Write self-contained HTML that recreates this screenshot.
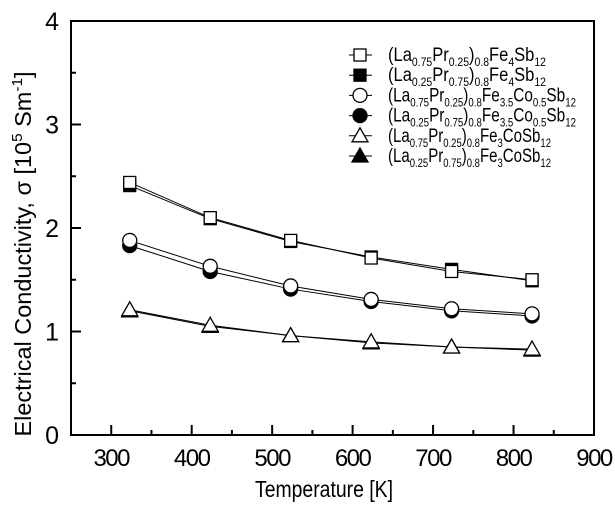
<!DOCTYPE html>
<html><head><meta charset="utf-8"><style>
body{margin:0;background:#fff}
svg{font-family:"Liberation Sans",sans-serif}
</style></head><body>
<svg id="c" width="615" height="504" viewBox="0 0 615 504">
<rect width="615" height="504" fill="#fff"/>
<g id="axes"></g><g id="series"></g><g id="legend"></g>
<text x="324" y="497" text-anchor="middle" font-size="23" textLength="138" lengthAdjust="spacingAndGlyphs">Temperature [K]</text>
<text transform="translate(31,254) rotate(-90)" text-anchor="middle" font-size="23" textLength="365" lengthAdjust="spacingAndGlyphs">Electrical Conductivity, σ [10<tspan font-size="15" dy="-9">5</tspan><tspan dy="9"> Sm</tspan><tspan font-size="15" dy="-9">-1</tspan><tspan dy="9">]</tspan></text>
</svg>
<script>
const temps=[323,423,523,623,723,823];
const sqOpen=[2.44,2.10,1.88,1.71,1.58,1.50];
const sqFill=[2.41,2.09,1.87,1.72,1.60,1.49];
const ciOpen=[1.88,1.63,1.44,1.31,1.22,1.17];
const ciFill=[1.83,1.58,1.41,1.29,1.20,1.15];
const trOpen=[1.21,1.06,0.96,0.90,0.85,0.83];
const trFill=[1.20,1.05,0.96,0.89,0.85,0.82];
const xTicks=[300,400,500,600,700,800,900];
const yTicks=[0,1,2,3,4];
const legendLabels=[
 ['0.75','0.25','Fe<tspan font-size="12" dy="5">4</tspan><tspan dy="-5">Sb</tspan><tspan font-size="12" dy="5">12</tspan>'],
 ['0.25','0.75','Fe<tspan font-size="12" dy="5">4</tspan><tspan dy="-5">Sb</tspan><tspan font-size="12" dy="5">12</tspan>'],
 ['0.75','0.25','Fe<tspan font-size="12" dy="5">3.5</tspan><tspan dy="-5">Co</tspan><tspan font-size="12" dy="5">0.5</tspan><tspan dy="-5">Sb</tspan><tspan font-size="12" dy="5">12</tspan>'],
 ['0.25','0.75','Fe<tspan font-size="12" dy="5">3.5</tspan><tspan dy="-5">Co</tspan><tspan font-size="12" dy="5">0.5</tspan><tspan dy="-5">Sb</tspan><tspan font-size="12" dy="5">12</tspan>'],
 ['0.75','0.25','Fe<tspan font-size="12" dy="5">3</tspan><tspan dy="-5">CoSb</tspan><tspan font-size="12" dy="5">12</tspan>'],
 ['0.25','0.75','Fe<tspan font-size="12" dy="5">3</tspan><tspan dy="-5">CoSb</tspan><tspan font-size="12" dy="5">12</tspan>']
];
const legendWidths=[158,158,188,188,163,163];
const NS='http://www.w3.org/2000/svg';
const L=71,R=594,T=21,B=435;
const X=v=>L+(v-250)/650*(R-L);
const Y=v=>B-v/4*(B-T);
function mk(tag,a,p){const e=document.createElementNS(NS,tag);for(const k in a)e.setAttribute(k,a[k]);p.appendChild(e);return e;}
const ax=document.getElementById('axes');
const frame=mk('rect',{x:L,y:T,width:R-L,height:B-T,fill:'none',stroke:'#000','stroke-width':2},ax);


xTicks.forEach(t=>{
 const l=mk('line',{x1:X(t),x2:X(t),y1:B,y2:B-10,stroke:'#000','stroke-width':2},ax);
 
 
 const m=mk('line',{x1:X(t-50),x2:X(t-50),y1:B,y2:B-5,stroke:'#000','stroke-width':2},ax);
 
 
 const tx=mk('text',{x:X(t),y:B+31,'text-anchor':'middle','font-size':24,'letter-spacing':-1.5},ax);tx.textContent=t;
 
 
});
yTicks.forEach(t=>{
 const l=mk('line',{x1:L,x2:L+10,y1:Y(t),y2:Y(t),stroke:'#000','stroke-width':2},ax);
 
 
 if(t<4){const m=mk('line',{x1:L,x2:L+5,y1:Y(t+0.5),y2:Y(t+0.5),stroke:'#000','stroke-width':2},ax);
 
 }
 const tx=mk('text',{x:L-12,y:Y(t)+9,'text-anchor':'end','font-size':25},ax);tx.textContent=t;
 
 
});
function marker(shape,fill,cx,cy,p){
 const f=fill?'#000':'#fff';
 if(shape==='sq')return mk('rect',{x:cx-6,y:cy-6,width:12,height:12,fill:f,stroke:'#000','stroke-width':1.3},p);
 if(shape==='ci')return mk('circle',{cx,cy,r:7,fill:f,stroke:'#000','stroke-width':1.3},p);
 return mk('polygon',{points:`${cx},${cy-8} ${cx-8},${cy+6} ${cx+8},${cy+6}`,fill:f,stroke:'#000','stroke-width':1.3},p);
}
const series=[['tr',1,trFill],['tr',0,trOpen],['ci',1,ciFill],['ci',0,ciOpen],['sq',1,sqFill],['sq',0,sqOpen]];
const sg=document.getElementById('series');
series.forEach(([s,f,vals],i)=>{
 const g=mk('g',{},sg);
 
 
 const pl=mk('polyline',{points:vals.map((v,j)=>X(temps[j])+','+Y(v)).join(' '),fill:'none',stroke:'#000','stroke-width':1},g);
 
 
 vals.forEach((v,j)=>{const m=marker(s,f,X(temps[j]),Y(v),g);
 
 });
});
const lg=document.getElementById('legend');
const legShapes=[['sq',0],['sq',1],['ci',0],['ci',1],['tr',0],['tr',1]];
legShapes.forEach(([s,f],i)=>{
 const y=55+i*20.2;
 const g=mk('g',{},lg);
 
 
 mk('line',{x1:349,x2:372,y1:y,y2:y,stroke:'#000','stroke-width':1},g);
 marker(s,f,360,y,g);
 const lb=legendLabels[i];
 const tx=mk('text',{x:388,y:y+6,'font-size':19,textLength:legendWidths[i],lengthAdjust:'spacingAndGlyphs'},g);
 tx.innerHTML=`(La<tspan font-size="12" dy="5">${lb[0]}</tspan><tspan dy="-5">Pr</tspan><tspan font-size="12" dy="5">${lb[1]}</tspan><tspan dy="-5">)</tspan><tspan font-size="12" dy="5">0.8</tspan><tspan dy="-5">${lb[2]}</tspan>`;
});
</script>
</body></html>
